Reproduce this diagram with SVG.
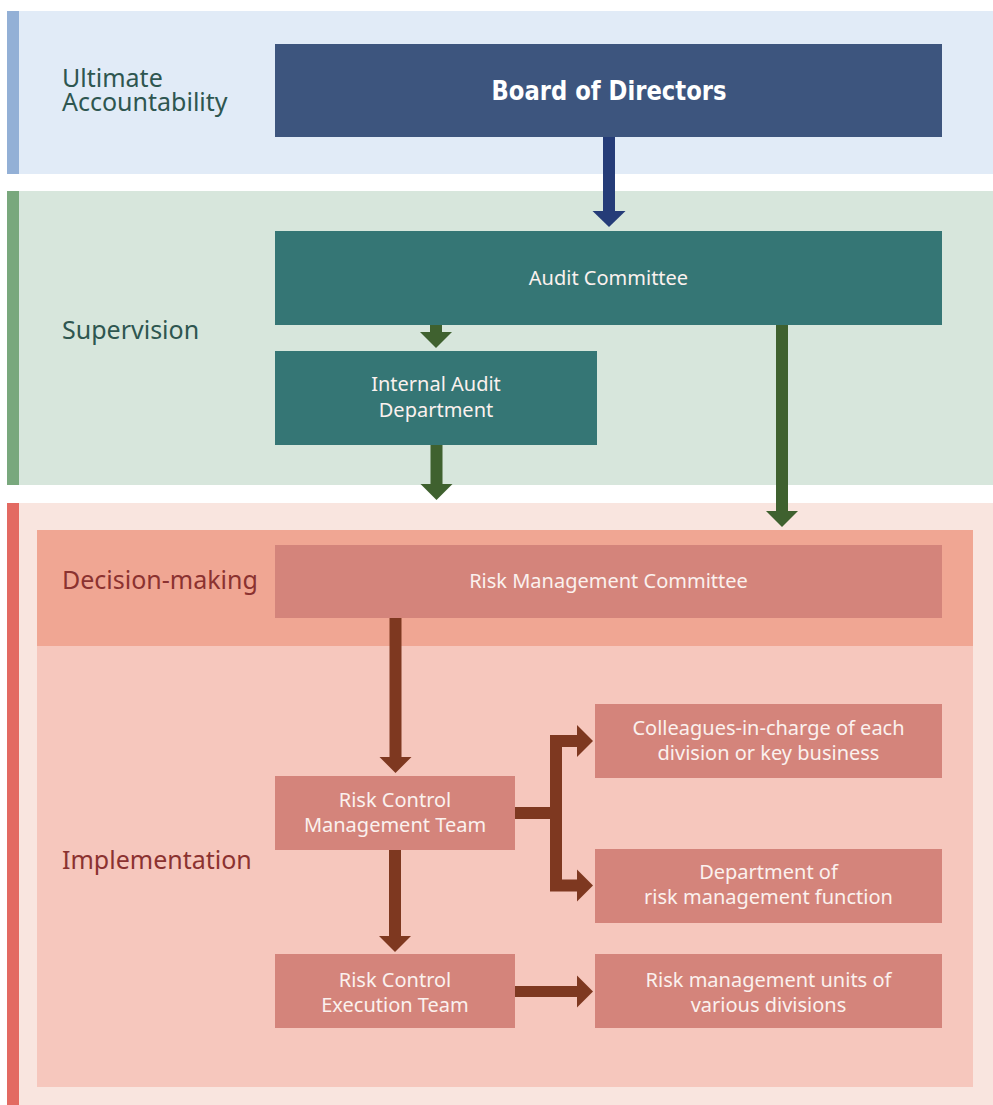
<svg xmlns="http://www.w3.org/2000/svg" width="993" height="1105" viewBox="0 0 993 1105">
  <style>
    .lbl { font-family: "Noto Sans", Lato, sans-serif; font-size: 25px; }
    .lbl-g { fill: #2E5650; }
    .lbl-r { fill: #8B3230; }
    .bt { font-family: "Noto Sans", Lato, sans-serif; font-size: 20px; fill: #FBF1EE; text-anchor: middle; }
    .teal { fill: #357675; }
    .rose { fill: #D4847B; }
    .ga { fill: #3F612F; }
    .ba { fill: #7E3820; }
  </style>
  <g id="bands">
    <rect x="7" y="11" width="986" height="163" fill="#E1EBF7"/>
    <rect x="7" y="11" width="12" height="163" fill="#93B0D6"/>
    <rect x="7" y="191" width="986" height="294" fill="#D7E6DC"/>
    <rect x="7" y="191" width="12" height="294" fill="#79A87D"/>
    <rect x="7" y="503" width="986" height="602" fill="#F9E5DF"/>
    <rect x="7" y="503" width="12" height="602" fill="#E36A62"/>
    <rect x="37" y="530" width="936" height="116" fill="#F0A693"/>
    <rect x="37" y="646" width="936" height="441" fill="#F6C7BD"/>
  </g>
  <g id="labels">
    <text class="lbl lbl-g"><tspan x="62" y="87">Ultimate</tspan><tspan x="62" y="111">Accountability</tspan></text>
    <text class="lbl lbl-g" x="62" y="339">Supervision</text>
    <text class="lbl lbl-r" x="62" y="589">Decision-making</text>
    <text class="lbl lbl-r" x="62" y="869">Implementation</text>
  </g>
  <g id="connectors">
    <rect x="603" y="136" width="12" height="75" fill="#253C78"/>
    <polygon points="592.5,211 625.5,211 609,227" fill="#253C78"/>
    <rect x="430" y="324" width="12" height="8" class="ga"/>
    <polygon points="420,332 452,332 436,348" class="ga"/>
    <rect x="430.5" y="444" width="12" height="40" class="ga"/>
    <polygon points="420.5,484 452.5,484 436.5,500" class="ga"/>
    <rect x="776" y="324" width="12" height="187" class="ga"/>
    <polygon points="766,511 798,511 782,527" class="ga"/>
    <rect x="389.5" y="618" width="12" height="139" class="ba"/>
    <polygon points="379.5,757 411.5,757 395.5,773" class="ba"/>
    <rect x="389" y="849" width="12" height="87" class="ba"/>
    <polygon points="379,936 411,936 395,952" class="ba"/>
    <path d="M514,813 H556 M556,741 H578 M556,885.5 H578 M556,735 V891.5" stroke="#7E3820" stroke-width="12" fill="none"/>
    <polygon points="577,725 577,757 593,741" class="ba"/>
    <polygon points="577,869.5 577,901.5 593,885.5" class="ba"/>
    <rect x="514" y="986" width="64" height="11" class="ba"/>
    <polygon points="577,975.5 577,1007.5 593,991.5" class="ba"/>
  </g>
  <g id="board">
    <rect x="275" y="44" width="667" height="93" fill="#3D557E"/>
    <text x="609" y="100" text-anchor="middle" font-family="'Liberation Sans Narrow', 'DejaVu Sans Condensed', sans-serif" font-weight="bold" font-size="27" fill="#FFFFFF" textLength="235" lengthAdjust="spacingAndGlyphs">Board of Directors</text>
  </g>
  <g id="audit-committee">
    <rect x="275" y="231" width="667" height="94" class="teal"/>
    <text class="bt" x="608.5" y="285">Audit Committee</text>
  </g>
  <g id="internal-audit">
    <rect x="275" y="351" width="322" height="94" class="teal"/>
    <text class="bt" x="436" y="391">Internal Audit</text>
    <text class="bt" x="436" y="417">Department</text>
  </g>
  <g id="risk-management-committee">
    <rect x="275" y="545" width="667" height="73" class="rose"/>
    <text class="bt" x="608.5" y="588">Risk Management Committee</text>
  </g>
  <g id="risk-control-management-team">
    <rect x="275" y="776" width="240" height="74" class="rose"/>
    <text class="bt" x="395" y="807">Risk Control</text>
    <text class="bt" x="395" y="832">Management Team</text>
  </g>
  <g id="colleagues">
    <rect x="595" y="704" width="347" height="74" class="rose"/>
    <text class="bt" x="768.5" y="735">Colleagues-in-charge of each</text>
    <text class="bt" x="768.5" y="760">division or key business</text>
  </g>
  <g id="department-risk">
    <rect x="595" y="849" width="347" height="74" class="rose"/>
    <text class="bt" x="768.5" y="879">Department of</text>
    <text class="bt" x="768.5" y="904">risk management function</text>
  </g>
  <g id="risk-control-execution-team">
    <rect x="275" y="954" width="240" height="74" class="rose"/>
    <text class="bt" x="395" y="987">Risk Control</text>
    <text class="bt" x="395" y="1012">Execution Team</text>
  </g>
  <g id="risk-units">
    <rect x="595" y="954" width="347" height="74" class="rose"/>
    <text class="bt" x="768.5" y="987">Risk management units of</text>
    <text class="bt" x="768.5" y="1012">various divisions</text>
  </g>
</svg>
